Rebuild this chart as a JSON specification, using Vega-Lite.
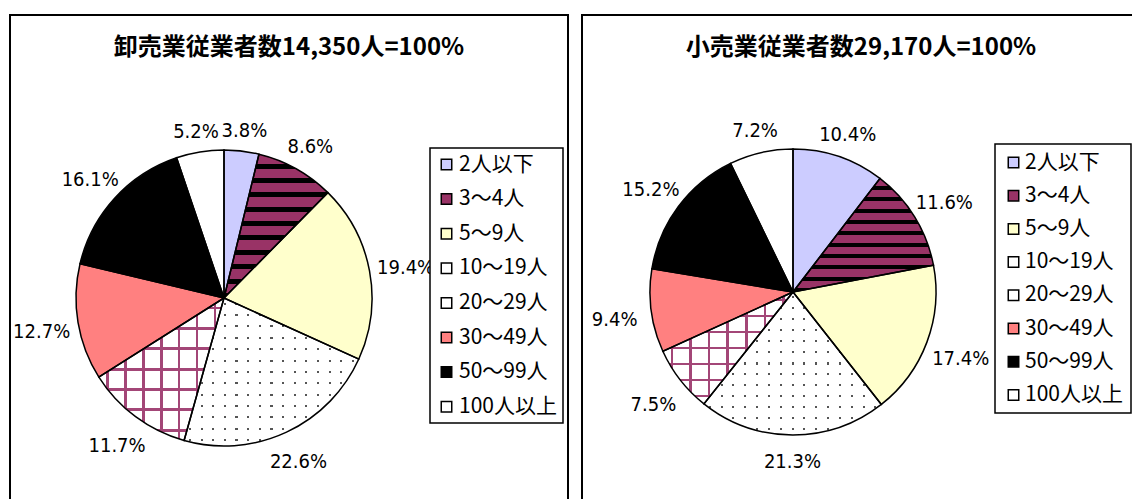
{
  "$schema": "https://vega.github.io/schema/vega-lite/v6.json",
  "background": "white",
  "padding": {"left": 9, "top": 14, "right": 0, "bottom": 0},
  "spacing": 12,
  "config": {
    "view": {"stroke": null},
    "legend": {"strokeWidth": 1.5}
  },
  "resolve": {"scale": {"theta": "independent", "color": "independent"}, "legend": {"color": "independent"}},
  "datasets": {
    "wholesale": [
      {"k": 1, "cat": "2人以下", "pct": 3.8, "label": "3.8%"},
      {"k": 2, "cat": "3〜4人", "pct": 8.6, "label": "8.6%"},
      {"k": 3, "cat": "5〜9人", "pct": 19.4, "label": "19.4%"},
      {"k": 4, "cat": "10〜19人", "pct": 22.6, "label": "22.6%"},
      {"k": 5, "cat": "20〜29人", "pct": 11.7, "label": "11.7%"},
      {"k": 6, "cat": "30〜49人", "pct": 12.7, "label": "12.7%"},
      {"k": 7, "cat": "50〜99人", "pct": 16.1, "label": "16.1%"},
      {"k": 8, "cat": "100人以上", "pct": 5.2, "label": "5.2%"}
    ],
    "retail": [
      {"k": 1, "cat": "2人以下", "pct": 10.4, "label": "10.4%"},
      {"k": 2, "cat": "3〜4人", "pct": 11.6, "label": "11.6%"},
      {"k": 3, "cat": "5〜9人", "pct": 17.4, "label": "17.4%"},
      {"k": 4, "cat": "10〜19人", "pct": 21.3, "label": "21.3%"},
      {"k": 5, "cat": "20〜29人", "pct": 7.5, "label": "7.5%"},
      {"k": 6, "cat": "30〜49人", "pct": 9.4, "label": "9.4%"},
      {"k": 7, "cat": "50〜99人", "pct": 15.2, "label": "15.2%"},
      {"k": 8, "cat": "100人以上", "pct": 7.2, "label": "7.2%"}
    ]
  },
  "hconcat": [
    {
      "width": 558,
      "height": 500,
      "data": {"name": "wholesale"},
      "title": {"text": "卸売業従業者数14,350人=100%", "anchor": "middle", "frame": "group", "offset": -58, "baseline": "middle", "fontSize": 24, "font": "Noto Sans CJK JP", "fontWeight": "bold", "color": "black"},
      "layer": [
        {
          "data": {"values": [{"frame": 1}]},
          "mark": {"type": "rect", "fill": "transparent", "stroke": "black", "strokeWidth": 2},
          "encoding": {}
        },
        {
          "encoding": {
            "theta": {"field": "pct", "type": "quantitative", "stack": true},
            "order": {"field": "k", "type": "quantitative", "sort": "ascending"}
          },
          "layer": [
            {
              "mark": {"type": "arc", "outerRadius": 148, "x": 214, "y": 283, "strokeWidth": 0},
              "encoding": {
                "color": {
                  "field": "cat", "type": "nominal",
                  "scale": {
                    "domain": ["2人以下", "3〜4人", "5〜9人", "10〜19人", "20〜29人", "30〜49人", "50〜99人", "100人以上"],
                    "range": ["#CCCCFF", "#993366", "#FFFFCC", "#FFFFFF", "#FFFFFF", "#FF8080", "#000000", "#FFFFFF"]
                  },
                  "legend": {
                    "title": null, "orient": "none", "legendX": 420, "legendY": 133, "direction": "vertical",
                    "symbolType": "square", "symbolSize": 110, "symbolStrokeColor": "black", "symbolStrokeWidth": 1.5,
                    "symbolOpacity": 1, "labelFont": "Noto Sans CJK JP", "labelFontSize": 21, "labelColor": "black",
                    "rowPadding": 12.6, "padding": 6, "strokeColor": "black", "fillColor": "white", "labelOffset": 2
                  }
                }
              }
            },
            {
              "mark": {"type": "arc", "outerRadius": 148, "x": 214, "y": 283, "strokeWidth": 0},
              "encoding": {
                "fill": {
                  "condition": {"test": "datum.k === 2", "value": {"gradient": "linear", "x1": 0, "y1": 0, "x2": 0, "y2": 1, "stops": [
                    {"offset": 0, "color": "#993366"}, {"offset": 0.065, "color": "#993366"}, {"offset": 0.065, "color": "#000000"}, {"offset": 0.1, "color": "#000000"},
                    {"offset": 0.1, "color": "#993366"}, {"offset": 0.165, "color": "#993366"}, {"offset": 0.165, "color": "#000000"}, {"offset": 0.2, "color": "#000000"},
                    {"offset": 0.2, "color": "#993366"}, {"offset": 0.265, "color": "#993366"}, {"offset": 0.265, "color": "#000000"}, {"offset": 0.3, "color": "#000000"},
                    {"offset": 0.3, "color": "#993366"}, {"offset": 0.365, "color": "#993366"}, {"offset": 0.365, "color": "#000000"}, {"offset": 0.4, "color": "#000000"},
                    {"offset": 0.4, "color": "#993366"}, {"offset": 0.465, "color": "#993366"}, {"offset": 0.465, "color": "#000000"}, {"offset": 0.5, "color": "#000000"},
                    {"offset": 0.5, "color": "#993366"}, {"offset": 0.565, "color": "#993366"}, {"offset": 0.565, "color": "#000000"}, {"offset": 0.6, "color": "#000000"},
                    {"offset": 0.6, "color": "#993366"}, {"offset": 0.665, "color": "#993366"}, {"offset": 0.665, "color": "#000000"}, {"offset": 0.7, "color": "#000000"},
                    {"offset": 0.7, "color": "#993366"}, {"offset": 0.765, "color": "#993366"}, {"offset": 0.765, "color": "#000000"}, {"offset": 0.8, "color": "#000000"},
                    {"offset": 0.8, "color": "#993366"}, {"offset": 0.865, "color": "#993366"}, {"offset": 0.865, "color": "#000000"}, {"offset": 0.9, "color": "#000000"},
                    {"offset": 0.9, "color": "#993366"}, {"offset": 0.965, "color": "#993366"}, {"offset": 0.965, "color": "#000000"}, {"offset": 1, "color": "#000000"}
                  ]}},
                  "value": "transparent"
                }
              }
            },
            {
              "mark": {"type": "arc", "outerRadius": 148, "x": 214, "y": 283, "strokeWidth": 0},
              "encoding": {
                "fill": {
                  "condition": {"test": "datum.k === 5", "value": {"gradient": "linear", "x1": 0, "y1": 0, "x2": 0, "y2": 1, "stops": [
                    {"offset": 0, "color": "rgba(163,70,119,0)"}, {"offset": 0.06, "color": "rgba(163,70,119,0)"}, {"offset": 0.06, "color": "#a34677"}, {"offset": 0.08, "color": "#a34677"},
                    {"offset": 0.08, "color": "rgba(163,70,119,0)"}, {"offset": 0.203, "color": "rgba(163,70,119,0)"}, {"offset": 0.203, "color": "#a34677"}, {"offset": 0.223, "color": "#a34677"},
                    {"offset": 0.223, "color": "rgba(163,70,119,0)"}, {"offset": 0.346, "color": "rgba(163,70,119,0)"}, {"offset": 0.346, "color": "#a34677"}, {"offset": 0.366, "color": "#a34677"},
                    {"offset": 0.366, "color": "rgba(163,70,119,0)"}, {"offset": 0.489, "color": "rgba(163,70,119,0)"}, {"offset": 0.489, "color": "#a34677"}, {"offset": 0.509, "color": "#a34677"},
                    {"offset": 0.509, "color": "rgba(163,70,119,0)"}, {"offset": 0.631, "color": "rgba(163,70,119,0)"}, {"offset": 0.631, "color": "#a34677"}, {"offset": 0.651, "color": "#a34677"},
                    {"offset": 0.651, "color": "rgba(163,70,119,0)"}, {"offset": 0.774, "color": "rgba(163,70,119,0)"}, {"offset": 0.774, "color": "#a34677"}, {"offset": 0.794, "color": "#a34677"},
                    {"offset": 0.794, "color": "rgba(163,70,119,0)"}, {"offset": 0.917, "color": "rgba(163,70,119,0)"}, {"offset": 0.917, "color": "#a34677"}, {"offset": 0.937, "color": "#a34677"},
                    {"offset": 0.937, "color": "rgba(163,70,119,0)"}, {"offset": 1, "color": "rgba(163,70,119,0)"}
                  ]}},
                  "value": "transparent"
                }
              }
            },
            {
              "mark": {"type": "arc", "outerRadius": 148, "x": 214, "y": 283, "strokeWidth": 0},
              "encoding": {
                "fill": {
                  "condition": {"test": "datum.k === 5", "value": {"gradient": "linear", "x1": 0, "y1": 0, "x2": 1, "y2": 0, "stops": [
                    {"offset": 0, "color": "rgba(163,70,119,0)"}, {"offset": 0.06, "color": "rgba(163,70,119,0)"}, {"offset": 0.06, "color": "#a34677"}, {"offset": 0.08, "color": "#a34677"},
                    {"offset": 0.08, "color": "rgba(163,70,119,0)"}, {"offset": 0.203, "color": "rgba(163,70,119,0)"}, {"offset": 0.203, "color": "#a34677"}, {"offset": 0.223, "color": "#a34677"},
                    {"offset": 0.223, "color": "rgba(163,70,119,0)"}, {"offset": 0.346, "color": "rgba(163,70,119,0)"}, {"offset": 0.346, "color": "#a34677"}, {"offset": 0.366, "color": "#a34677"},
                    {"offset": 0.366, "color": "rgba(163,70,119,0)"}, {"offset": 0.489, "color": "rgba(163,70,119,0)"}, {"offset": 0.489, "color": "#a34677"}, {"offset": 0.509, "color": "#a34677"},
                    {"offset": 0.509, "color": "rgba(163,70,119,0)"}, {"offset": 0.631, "color": "rgba(163,70,119,0)"}, {"offset": 0.631, "color": "#a34677"}, {"offset": 0.651, "color": "#a34677"},
                    {"offset": 0.651, "color": "rgba(163,70,119,0)"}, {"offset": 0.774, "color": "rgba(163,70,119,0)"}, {"offset": 0.774, "color": "#a34677"}, {"offset": 0.794, "color": "#a34677"},
                    {"offset": 0.794, "color": "rgba(163,70,119,0)"}, {"offset": 0.917, "color": "rgba(163,70,119,0)"}, {"offset": 0.917, "color": "#a34677"}, {"offset": 0.937, "color": "#a34677"},
                    {"offset": 0.937, "color": "rgba(163,70,119,0)"}, {"offset": 1, "color": "rgba(163,70,119,0)"}
                  ]}},
                  "value": "transparent"
                }
              }
            },
            {
              "mark": {"type": "arc", "outerRadius": 148, "x": 214, "y": 283, "strokeWidth": 0},
              "encoding": {
                "fill": {
                  "condition": {"test": "datum.k === 4", "value": {"gradient": "linear", "x1": 0, "y1": 0, "x2": 0, "y2": 1, "stops": [
                    {"offset": 0, "color": "rgba(85,85,85,0)"}, {"offset": 0.031, "color": "rgba(85,85,85,0)"}, {"offset": 0.031, "color": "#555555"}, {"offset": 0.045, "color": "#555555"},
                    {"offset": 0.045, "color": "rgba(85,85,85,0)"}, {"offset": 0.108, "color": "rgba(85,85,85,0)"}, {"offset": 0.108, "color": "#555555"}, {"offset": 0.122, "color": "#555555"},
                    {"offset": 0.122, "color": "rgba(85,85,85,0)"}, {"offset": 0.185, "color": "rgba(85,85,85,0)"}, {"offset": 0.185, "color": "#555555"}, {"offset": 0.199, "color": "#555555"},
                    {"offset": 0.199, "color": "rgba(85,85,85,0)"}, {"offset": 0.262, "color": "rgba(85,85,85,0)"}, {"offset": 0.262, "color": "#555555"}, {"offset": 0.276, "color": "#555555"},
                    {"offset": 0.276, "color": "rgba(85,85,85,0)"}, {"offset": 0.339, "color": "rgba(85,85,85,0)"}, {"offset": 0.339, "color": "#555555"}, {"offset": 0.353, "color": "#555555"},
                    {"offset": 0.353, "color": "rgba(85,85,85,0)"}, {"offset": 0.416, "color": "rgba(85,85,85,0)"}, {"offset": 0.416, "color": "#555555"}, {"offset": 0.43, "color": "#555555"},
                    {"offset": 0.43, "color": "rgba(85,85,85,0)"}, {"offset": 0.493, "color": "rgba(85,85,85,0)"}, {"offset": 0.493, "color": "#555555"}, {"offset": 0.507, "color": "#555555"},
                    {"offset": 0.507, "color": "rgba(85,85,85,0)"}, {"offset": 0.569, "color": "rgba(85,85,85,0)"}, {"offset": 0.569, "color": "#555555"}, {"offset": 0.583, "color": "#555555"},
                    {"offset": 0.583, "color": "rgba(85,85,85,0)"}, {"offset": 0.646, "color": "rgba(85,85,85,0)"}, {"offset": 0.646, "color": "#555555"}, {"offset": 0.66, "color": "#555555"},
                    {"offset": 0.66, "color": "rgba(85,85,85,0)"}, {"offset": 0.723, "color": "rgba(85,85,85,0)"}, {"offset": 0.723, "color": "#555555"}, {"offset": 0.737, "color": "#555555"},
                    {"offset": 0.737, "color": "rgba(85,85,85,0)"}, {"offset": 0.8, "color": "rgba(85,85,85,0)"}, {"offset": 0.8, "color": "#555555"}, {"offset": 0.814, "color": "#555555"},
                    {"offset": 0.814, "color": "rgba(85,85,85,0)"}, {"offset": 0.877, "color": "rgba(85,85,85,0)"}, {"offset": 0.877, "color": "#555555"}, {"offset": 0.891, "color": "#555555"},
                    {"offset": 0.891, "color": "rgba(85,85,85,0)"}, {"offset": 0.954, "color": "rgba(85,85,85,0)"}, {"offset": 0.954, "color": "#555555"}, {"offset": 0.968, "color": "#555555"},
                    {"offset": 0.968, "color": "rgba(85,85,85,0)"}, {"offset": 1, "color": "rgba(85,85,85,0)"}
                  ]}},
                  "value": "transparent"
                }
              }
            },
            {
              "mark": {"type": "arc", "outerRadius": 148, "x": 214, "y": 283, "strokeWidth": 0},
              "encoding": {
                "fill": {
                  "condition": {"test": "datum.k === 4", "value": {"gradient": "linear", "x1": 0, "y1": 0, "x2": 1, "y2": 0, "stops": [
                    {"offset": 0, "color": "#ffffff"}, {"offset": 0.027, "color": "#ffffff"}, {"offset": 0.027, "color": "rgba(255,255,255,0)"}, {"offset": 0.039, "color": "rgba(255,255,255,0)"},
                    {"offset": 0.039, "color": "#ffffff"}, {"offset": 0.094, "color": "#ffffff"}, {"offset": 0.094, "color": "rgba(255,255,255,0)"}, {"offset": 0.106, "color": "rgba(255,255,255,0)"},
                    {"offset": 0.106, "color": "#ffffff"}, {"offset": 0.16, "color": "#ffffff"}, {"offset": 0.16, "color": "rgba(255,255,255,0)"}, {"offset": 0.172, "color": "rgba(255,255,255,0)"},
                    {"offset": 0.172, "color": "#ffffff"}, {"offset": 0.227, "color": "#ffffff"}, {"offset": 0.227, "color": "rgba(255,255,255,0)"}, {"offset": 0.239, "color": "rgba(255,255,255,0)"},
                    {"offset": 0.239, "color": "#ffffff"}, {"offset": 0.294, "color": "#ffffff"}, {"offset": 0.294, "color": "rgba(255,255,255,0)"}, {"offset": 0.306, "color": "rgba(255,255,255,0)"},
                    {"offset": 0.306, "color": "#ffffff"}, {"offset": 0.36, "color": "#ffffff"}, {"offset": 0.36, "color": "rgba(255,255,255,0)"}, {"offset": 0.372, "color": "rgba(255,255,255,0)"},
                    {"offset": 0.372, "color": "#ffffff"}, {"offset": 0.427, "color": "#ffffff"}, {"offset": 0.427, "color": "rgba(255,255,255,0)"}, {"offset": 0.439, "color": "rgba(255,255,255,0)"},
                    {"offset": 0.439, "color": "#ffffff"}, {"offset": 0.494, "color": "#ffffff"}, {"offset": 0.494, "color": "rgba(255,255,255,0)"}, {"offset": 0.506, "color": "rgba(255,255,255,0)"},
                    {"offset": 0.506, "color": "#ffffff"}, {"offset": 0.56, "color": "#ffffff"}, {"offset": 0.56, "color": "rgba(255,255,255,0)"}, {"offset": 0.572, "color": "rgba(255,255,255,0)"},
                    {"offset": 0.572, "color": "#ffffff"}, {"offset": 0.627, "color": "#ffffff"}, {"offset": 0.627, "color": "rgba(255,255,255,0)"}, {"offset": 0.639, "color": "rgba(255,255,255,0)"},
                    {"offset": 0.639, "color": "#ffffff"}, {"offset": 0.694, "color": "#ffffff"}, {"offset": 0.694, "color": "rgba(255,255,255,0)"}, {"offset": 0.706, "color": "rgba(255,255,255,0)"},
                    {"offset": 0.706, "color": "#ffffff"}, {"offset": 0.76, "color": "#ffffff"}, {"offset": 0.76, "color": "rgba(255,255,255,0)"}, {"offset": 0.772, "color": "rgba(255,255,255,0)"},
                    {"offset": 0.772, "color": "#ffffff"}, {"offset": 0.827, "color": "#ffffff"}, {"offset": 0.827, "color": "rgba(255,255,255,0)"}, {"offset": 0.839, "color": "rgba(255,255,255,0)"},
                    {"offset": 0.839, "color": "#ffffff"}, {"offset": 0.894, "color": "#ffffff"}, {"offset": 0.894, "color": "rgba(255,255,255,0)"}, {"offset": 0.906, "color": "rgba(255,255,255,0)"},
                    {"offset": 0.906, "color": "#ffffff"}, {"offset": 0.96, "color": "#ffffff"}, {"offset": 0.96, "color": "rgba(255,255,255,0)"}, {"offset": 0.972, "color": "rgba(255,255,255,0)"},
                    {"offset": 0.972, "color": "#ffffff"}, {"offset": 1, "color": "#ffffff"}
                  ]}},
                  "value": "transparent"
                }
              }
            },
            {
              "mark": {"type": "arc", "outerRadius": 148, "x": 214, "y": 283, "fill": "transparent", "stroke": "black", "strokeWidth": 1.5},
              "encoding": {}
            },
            {
              "mark": {"type": "text", "radius": {"expr": "170 + 15*abs(sin(PI*(datum.pct_start+datum.pct_end)/100))"}, "x": 214, "y": 283, "dy": 4, "font": "Liberation Sans Narrow, DejaVu Sans Condensed, sans-serif", "fontSize": 20, "color": "black", "align": "center", "baseline": "middle"},
              "encoding": {"text": {"field": "label", "type": "nominal"}}
            }
          ]
        }
      ]
    },
    {
      "width": 558,
      "height": 500,
      "data": {"name": "retail"},
      "title": {"text": "小売業従業者数29,170人=100%", "anchor": "middle", "frame": "group", "offset": -58, "baseline": "middle", "fontSize": 24, "font": "Noto Sans CJK JP", "fontWeight": "bold", "color": "black"},
      "layer": [
        {
          "data": {"values": [{"frame": 1}]},
          "mark": {"type": "rect", "fill": "transparent", "stroke": "black", "strokeWidth": 2},
          "encoding": {}
        },
        {
          "encoding": {
            "theta": {"field": "pct", "type": "quantitative", "stack": true},
            "order": {"field": "k", "type": "quantitative", "sort": "ascending"}
          },
          "layer": [
            {
              "mark": {"type": "arc", "outerRadius": 143, "x": 211, "y": 277, "strokeWidth": 0},
              "encoding": {
                "color": {
                  "field": "cat", "type": "nominal",
                  "scale": {
                    "domain": ["2人以下", "3〜4人", "5〜9人", "10〜19人", "20〜29人", "30〜49人", "50〜99人", "100人以上"],
                    "range": ["#CCCCFF", "#993366", "#FFFFCC", "#FFFFFF", "#FFFFFF", "#FF8080", "#000000", "#FFFFFF"]
                  },
                  "legend": {
                    "title": null, "orient": "none", "legendX": 413, "legendY": 129, "direction": "vertical",
                    "symbolType": "square", "symbolSize": 110, "symbolStrokeColor": "black", "symbolStrokeWidth": 1.5,
                    "symbolOpacity": 1, "labelFont": "Noto Sans CJK JP", "labelFontSize": 21, "labelColor": "black",
                    "rowPadding": 11.2, "padding": 8, "strokeColor": "black", "fillColor": "white", "labelOffset": 1
                  }
                }
              }
            },
            {
              "mark": {"type": "arc", "outerRadius": 143, "x": 211, "y": 277, "strokeWidth": 0},
              "encoding": {
                "fill": {
                  "condition": {"test": "datum.k === 2", "value": {"gradient": "linear", "x1": 0, "y1": 0, "x2": 0, "y2": 1, "stops": [
                    {"offset": 0, "color": "#993366"}, {"offset": 0.065, "color": "#993366"}, {"offset": 0.065, "color": "#000000"}, {"offset": 0.1, "color": "#000000"},
                    {"offset": 0.1, "color": "#993366"}, {"offset": 0.165, "color": "#993366"}, {"offset": 0.165, "color": "#000000"}, {"offset": 0.2, "color": "#000000"},
                    {"offset": 0.2, "color": "#993366"}, {"offset": 0.265, "color": "#993366"}, {"offset": 0.265, "color": "#000000"}, {"offset": 0.3, "color": "#000000"},
                    {"offset": 0.3, "color": "#993366"}, {"offset": 0.365, "color": "#993366"}, {"offset": 0.365, "color": "#000000"}, {"offset": 0.4, "color": "#000000"},
                    {"offset": 0.4, "color": "#993366"}, {"offset": 0.465, "color": "#993366"}, {"offset": 0.465, "color": "#000000"}, {"offset": 0.5, "color": "#000000"},
                    {"offset": 0.5, "color": "#993366"}, {"offset": 0.565, "color": "#993366"}, {"offset": 0.565, "color": "#000000"}, {"offset": 0.6, "color": "#000000"},
                    {"offset": 0.6, "color": "#993366"}, {"offset": 0.665, "color": "#993366"}, {"offset": 0.665, "color": "#000000"}, {"offset": 0.7, "color": "#000000"},
                    {"offset": 0.7, "color": "#993366"}, {"offset": 0.765, "color": "#993366"}, {"offset": 0.765, "color": "#000000"}, {"offset": 0.8, "color": "#000000"},
                    {"offset": 0.8, "color": "#993366"}, {"offset": 0.865, "color": "#993366"}, {"offset": 0.865, "color": "#000000"}, {"offset": 0.9, "color": "#000000"},
                    {"offset": 0.9, "color": "#993366"}, {"offset": 0.965, "color": "#993366"}, {"offset": 0.965, "color": "#000000"}, {"offset": 1, "color": "#000000"}
                  ]}},
                  "value": "transparent"
                }
              }
            },
            {
              "mark": {"type": "arc", "outerRadius": 143, "x": 211, "y": 277, "strokeWidth": 0},
              "encoding": {
                "fill": {
                  "condition": {"test": "datum.k === 5", "value": {"gradient": "linear", "x1": 0, "y1": 0, "x2": 0, "y2": 1, "stops": [
                    {"offset": 0, "color": "rgba(163,70,119,0)"}, {"offset": 0.06, "color": "rgba(163,70,119,0)"}, {"offset": 0.06, "color": "#a34677"}, {"offset": 0.08, "color": "#a34677"},
                    {"offset": 0.08, "color": "rgba(163,70,119,0)"}, {"offset": 0.203, "color": "rgba(163,70,119,0)"}, {"offset": 0.203, "color": "#a34677"}, {"offset": 0.223, "color": "#a34677"},
                    {"offset": 0.223, "color": "rgba(163,70,119,0)"}, {"offset": 0.346, "color": "rgba(163,70,119,0)"}, {"offset": 0.346, "color": "#a34677"}, {"offset": 0.366, "color": "#a34677"},
                    {"offset": 0.366, "color": "rgba(163,70,119,0)"}, {"offset": 0.489, "color": "rgba(163,70,119,0)"}, {"offset": 0.489, "color": "#a34677"}, {"offset": 0.509, "color": "#a34677"},
                    {"offset": 0.509, "color": "rgba(163,70,119,0)"}, {"offset": 0.631, "color": "rgba(163,70,119,0)"}, {"offset": 0.631, "color": "#a34677"}, {"offset": 0.651, "color": "#a34677"},
                    {"offset": 0.651, "color": "rgba(163,70,119,0)"}, {"offset": 0.774, "color": "rgba(163,70,119,0)"}, {"offset": 0.774, "color": "#a34677"}, {"offset": 0.794, "color": "#a34677"},
                    {"offset": 0.794, "color": "rgba(163,70,119,0)"}, {"offset": 0.917, "color": "rgba(163,70,119,0)"}, {"offset": 0.917, "color": "#a34677"}, {"offset": 0.937, "color": "#a34677"},
                    {"offset": 0.937, "color": "rgba(163,70,119,0)"}, {"offset": 1, "color": "rgba(163,70,119,0)"}
                  ]}},
                  "value": "transparent"
                }
              }
            },
            {
              "mark": {"type": "arc", "outerRadius": 143, "x": 211, "y": 277, "strokeWidth": 0},
              "encoding": {
                "fill": {
                  "condition": {"test": "datum.k === 5", "value": {"gradient": "linear", "x1": 0, "y1": 0, "x2": 1, "y2": 0, "stops": [
                    {"offset": 0, "color": "rgba(163,70,119,0)"}, {"offset": 0.06, "color": "rgba(163,70,119,0)"}, {"offset": 0.06, "color": "#a34677"}, {"offset": 0.08, "color": "#a34677"},
                    {"offset": 0.08, "color": "rgba(163,70,119,0)"}, {"offset": 0.203, "color": "rgba(163,70,119,0)"}, {"offset": 0.203, "color": "#a34677"}, {"offset": 0.223, "color": "#a34677"},
                    {"offset": 0.223, "color": "rgba(163,70,119,0)"}, {"offset": 0.346, "color": "rgba(163,70,119,0)"}, {"offset": 0.346, "color": "#a34677"}, {"offset": 0.366, "color": "#a34677"},
                    {"offset": 0.366, "color": "rgba(163,70,119,0)"}, {"offset": 0.489, "color": "rgba(163,70,119,0)"}, {"offset": 0.489, "color": "#a34677"}, {"offset": 0.509, "color": "#a34677"},
                    {"offset": 0.509, "color": "rgba(163,70,119,0)"}, {"offset": 0.631, "color": "rgba(163,70,119,0)"}, {"offset": 0.631, "color": "#a34677"}, {"offset": 0.651, "color": "#a34677"},
                    {"offset": 0.651, "color": "rgba(163,70,119,0)"}, {"offset": 0.774, "color": "rgba(163,70,119,0)"}, {"offset": 0.774, "color": "#a34677"}, {"offset": 0.794, "color": "#a34677"},
                    {"offset": 0.794, "color": "rgba(163,70,119,0)"}, {"offset": 0.917, "color": "rgba(163,70,119,0)"}, {"offset": 0.917, "color": "#a34677"}, {"offset": 0.937, "color": "#a34677"},
                    {"offset": 0.937, "color": "rgba(163,70,119,0)"}, {"offset": 1, "color": "rgba(163,70,119,0)"}
                  ]}},
                  "value": "transparent"
                }
              }
            },
            {
              "mark": {"type": "arc", "outerRadius": 143, "x": 211, "y": 277, "strokeWidth": 0},
              "encoding": {
                "fill": {
                  "condition": {"test": "datum.k === 4", "value": {"gradient": "linear", "x1": 0, "y1": 0, "x2": 0, "y2": 1, "stops": [
                    {"offset": 0, "color": "rgba(85,85,85,0)"}, {"offset": 0.031, "color": "rgba(85,85,85,0)"}, {"offset": 0.031, "color": "#555555"}, {"offset": 0.045, "color": "#555555"},
                    {"offset": 0.045, "color": "rgba(85,85,85,0)"}, {"offset": 0.108, "color": "rgba(85,85,85,0)"}, {"offset": 0.108, "color": "#555555"}, {"offset": 0.122, "color": "#555555"},
                    {"offset": 0.122, "color": "rgba(85,85,85,0)"}, {"offset": 0.185, "color": "rgba(85,85,85,0)"}, {"offset": 0.185, "color": "#555555"}, {"offset": 0.199, "color": "#555555"},
                    {"offset": 0.199, "color": "rgba(85,85,85,0)"}, {"offset": 0.262, "color": "rgba(85,85,85,0)"}, {"offset": 0.262, "color": "#555555"}, {"offset": 0.276, "color": "#555555"},
                    {"offset": 0.276, "color": "rgba(85,85,85,0)"}, {"offset": 0.339, "color": "rgba(85,85,85,0)"}, {"offset": 0.339, "color": "#555555"}, {"offset": 0.353, "color": "#555555"},
                    {"offset": 0.353, "color": "rgba(85,85,85,0)"}, {"offset": 0.416, "color": "rgba(85,85,85,0)"}, {"offset": 0.416, "color": "#555555"}, {"offset": 0.43, "color": "#555555"},
                    {"offset": 0.43, "color": "rgba(85,85,85,0)"}, {"offset": 0.493, "color": "rgba(85,85,85,0)"}, {"offset": 0.493, "color": "#555555"}, {"offset": 0.507, "color": "#555555"},
                    {"offset": 0.507, "color": "rgba(85,85,85,0)"}, {"offset": 0.569, "color": "rgba(85,85,85,0)"}, {"offset": 0.569, "color": "#555555"}, {"offset": 0.583, "color": "#555555"},
                    {"offset": 0.583, "color": "rgba(85,85,85,0)"}, {"offset": 0.646, "color": "rgba(85,85,85,0)"}, {"offset": 0.646, "color": "#555555"}, {"offset": 0.66, "color": "#555555"},
                    {"offset": 0.66, "color": "rgba(85,85,85,0)"}, {"offset": 0.723, "color": "rgba(85,85,85,0)"}, {"offset": 0.723, "color": "#555555"}, {"offset": 0.737, "color": "#555555"},
                    {"offset": 0.737, "color": "rgba(85,85,85,0)"}, {"offset": 0.8, "color": "rgba(85,85,85,0)"}, {"offset": 0.8, "color": "#555555"}, {"offset": 0.814, "color": "#555555"},
                    {"offset": 0.814, "color": "rgba(85,85,85,0)"}, {"offset": 0.877, "color": "rgba(85,85,85,0)"}, {"offset": 0.877, "color": "#555555"}, {"offset": 0.891, "color": "#555555"},
                    {"offset": 0.891, "color": "rgba(85,85,85,0)"}, {"offset": 0.954, "color": "rgba(85,85,85,0)"}, {"offset": 0.954, "color": "#555555"}, {"offset": 0.968, "color": "#555555"},
                    {"offset": 0.968, "color": "rgba(85,85,85,0)"}, {"offset": 1, "color": "rgba(85,85,85,0)"}
                  ]}},
                  "value": "transparent"
                }
              }
            },
            {
              "mark": {"type": "arc", "outerRadius": 143, "x": 211, "y": 277, "strokeWidth": 0},
              "encoding": {
                "fill": {
                  "condition": {"test": "datum.k === 4", "value": {"gradient": "linear", "x1": 0, "y1": 0, "x2": 1, "y2": 0, "stops": [
                    {"offset": 0, "color": "#ffffff"}, {"offset": 0.027, "color": "#ffffff"}, {"offset": 0.027, "color": "rgba(255,255,255,0)"}, {"offset": 0.039, "color": "rgba(255,255,255,0)"},
                    {"offset": 0.039, "color": "#ffffff"}, {"offset": 0.094, "color": "#ffffff"}, {"offset": 0.094, "color": "rgba(255,255,255,0)"}, {"offset": 0.106, "color": "rgba(255,255,255,0)"},
                    {"offset": 0.106, "color": "#ffffff"}, {"offset": 0.16, "color": "#ffffff"}, {"offset": 0.16, "color": "rgba(255,255,255,0)"}, {"offset": 0.172, "color": "rgba(255,255,255,0)"},
                    {"offset": 0.172, "color": "#ffffff"}, {"offset": 0.227, "color": "#ffffff"}, {"offset": 0.227, "color": "rgba(255,255,255,0)"}, {"offset": 0.239, "color": "rgba(255,255,255,0)"},
                    {"offset": 0.239, "color": "#ffffff"}, {"offset": 0.294, "color": "#ffffff"}, {"offset": 0.294, "color": "rgba(255,255,255,0)"}, {"offset": 0.306, "color": "rgba(255,255,255,0)"},
                    {"offset": 0.306, "color": "#ffffff"}, {"offset": 0.36, "color": "#ffffff"}, {"offset": 0.36, "color": "rgba(255,255,255,0)"}, {"offset": 0.372, "color": "rgba(255,255,255,0)"},
                    {"offset": 0.372, "color": "#ffffff"}, {"offset": 0.427, "color": "#ffffff"}, {"offset": 0.427, "color": "rgba(255,255,255,0)"}, {"offset": 0.439, "color": "rgba(255,255,255,0)"},
                    {"offset": 0.439, "color": "#ffffff"}, {"offset": 0.494, "color": "#ffffff"}, {"offset": 0.494, "color": "rgba(255,255,255,0)"}, {"offset": 0.506, "color": "rgba(255,255,255,0)"},
                    {"offset": 0.506, "color": "#ffffff"}, {"offset": 0.56, "color": "#ffffff"}, {"offset": 0.56, "color": "rgba(255,255,255,0)"}, {"offset": 0.572, "color": "rgba(255,255,255,0)"},
                    {"offset": 0.572, "color": "#ffffff"}, {"offset": 0.627, "color": "#ffffff"}, {"offset": 0.627, "color": "rgba(255,255,255,0)"}, {"offset": 0.639, "color": "rgba(255,255,255,0)"},
                    {"offset": 0.639, "color": "#ffffff"}, {"offset": 0.694, "color": "#ffffff"}, {"offset": 0.694, "color": "rgba(255,255,255,0)"}, {"offset": 0.706, "color": "rgba(255,255,255,0)"},
                    {"offset": 0.706, "color": "#ffffff"}, {"offset": 0.76, "color": "#ffffff"}, {"offset": 0.76, "color": "rgba(255,255,255,0)"}, {"offset": 0.772, "color": "rgba(255,255,255,0)"},
                    {"offset": 0.772, "color": "#ffffff"}, {"offset": 0.827, "color": "#ffffff"}, {"offset": 0.827, "color": "rgba(255,255,255,0)"}, {"offset": 0.839, "color": "rgba(255,255,255,0)"},
                    {"offset": 0.839, "color": "#ffffff"}, {"offset": 0.894, "color": "#ffffff"}, {"offset": 0.894, "color": "rgba(255,255,255,0)"}, {"offset": 0.906, "color": "rgba(255,255,255,0)"},
                    {"offset": 0.906, "color": "#ffffff"}, {"offset": 0.96, "color": "#ffffff"}, {"offset": 0.96, "color": "rgba(255,255,255,0)"}, {"offset": 0.972, "color": "rgba(255,255,255,0)"},
                    {"offset": 0.972, "color": "#ffffff"}, {"offset": 1, "color": "#ffffff"}
                  ]}},
                  "value": "transparent"
                }
              }
            },
            {
              "mark": {"type": "arc", "outerRadius": 143, "x": 211, "y": 277, "fill": "transparent", "stroke": "black", "strokeWidth": 1.5},
              "encoding": {}
            },
            {
              "mark": {"type": "text", "radius": {"expr": "166 + 14*abs(sin(PI*(datum.pct_start+datum.pct_end)/100))"}, "x": 211, "y": 277, "dy": 4, "font": "Liberation Sans Narrow, DejaVu Sans Condensed, sans-serif", "fontSize": 20, "color": "black", "align": "center", "baseline": "middle"},
              "encoding": {"text": {"field": "label", "type": "nominal"}}
            }
          ]
        }
      ]
    }
  ]
}
